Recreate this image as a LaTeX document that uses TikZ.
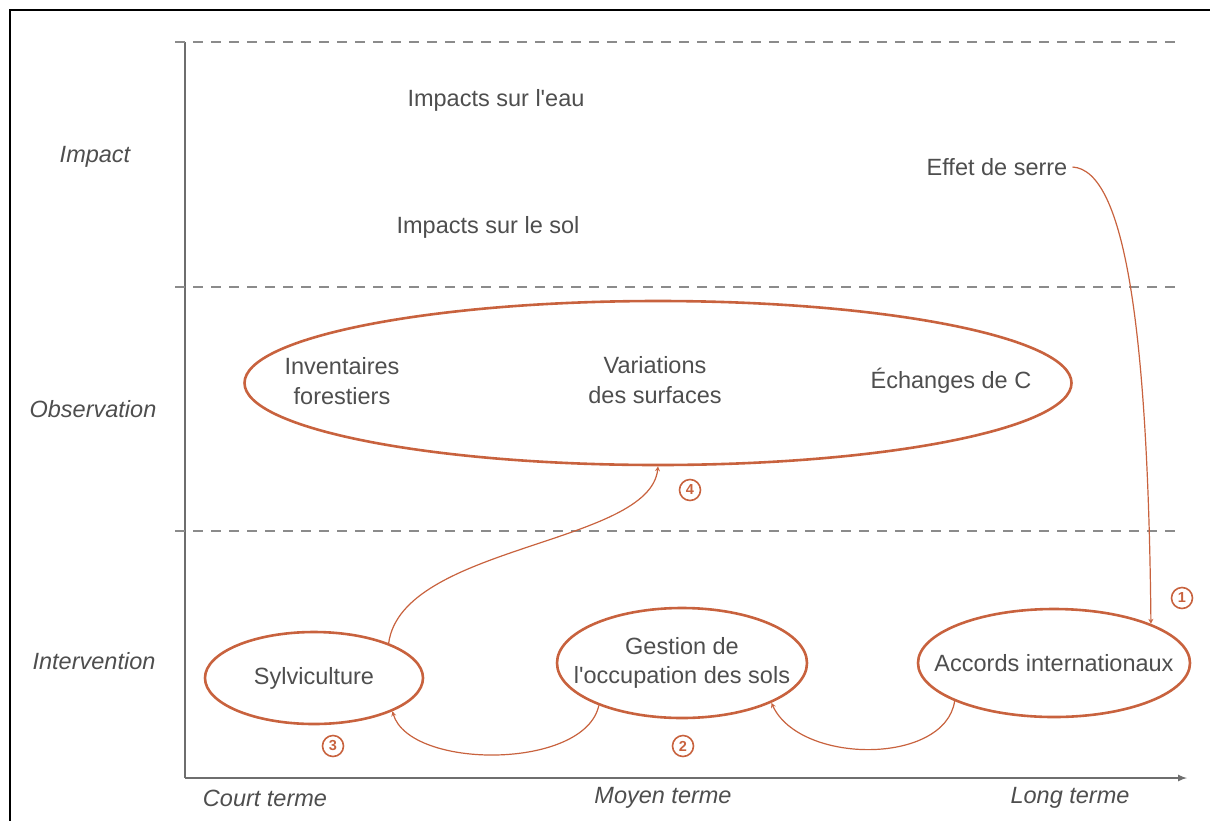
\documentclass[tikz,border=0pt]{standalone}
\usepackage{fontspec}
\setmainfont{Liberation Sans}[Ligatures=TeXOff]
\usepackage{xcolor}
\usetikzlibrary{arrows, shapes}

\definecolor{Brique}{RGB}{200,98,62}
\definecolor{Texte}{RGB}{78,78,78}
\definecolor{Trait}{RGB}{110,110,110}

\begin{document}
\begin{tikzpicture}[x=1pt, y=-1pt,
  texte/.style={text=Texte, font=\fontsize{23.5}{29.5}\selectfont,
    align=center, inner sep=0pt},
  %
  axe/.style={text=Texte, font=\fontsize{23.5}{29.5}\selectfont\itshape,
    inner sep=0pt},
  %
  action/.style={draw=Brique, ellipse, line width=2.6pt, inner sep=0pt},
  %
  lien/.style={->, >=stealth, draw=Brique, line width=1.2pt},
  %
  numero/.style={circle, draw=Brique, text=Brique, line width=1.6pt,
    inner sep=0pt, minimum size=21pt, font=\fontsize{14.5}{14.5}\selectfont\bfseries},
  %
  niveau/.style={draw=Trait!80, dash pattern=on 10pt off 8pt, line width=2pt}
  ]

  \useasboundingbox (0,0) rectangle (1210,820);

  % cadre
  \draw [line width=2pt] (10,840) |- (1230,10);

  \begin{scope}
    % axes et niveaux
    \coordinate (haut) at (185,42);
    \coordinate (origine) at (185,778);
    \coordinate (fin) at (1187,778);
    \draw [Trait, line width=2pt] (haut) -- (origine);
    \draw [Trait, line width=2pt, -latex] (origine) -- (fin);
    \foreach \y in {42, 287, 531}
      \draw [niveau] (175,\y) -- (1182,\y);

    \node [axe] (impact) at (95,157) {Impact};
    \node [axe] (observation) at (93,409) {Observation};
    \node [axe] (intervention) at (94,661) {Intervention};
    \node [axe] (court) at (265,798) {Court terme};
    \node [axe] (moyen) at (663,798) {Moyen terme};
    \node [axe] (long) at (1070,798) {Long terme};
  \end{scope}

  \begin{scope}
    % impacts
    \node [texte] (eau) at (496,100) {Impacts sur l'eau};
    \node [texte] (sol) at (488,227) {Impacts sur le sol};
    \node [texte] (serre) at (997,167) {Effet de serre};

    % observation
    \node [action, minimum width=827pt, minimum height=164pt] (obs) at (658,383) {};
    \node [texte] (inventaires) at (342,381) {Inventaires\\forestiers};
    \node [texte] (variations) at (655,380) {Variations\\des surfaces};
    \node [texte] (echanges) at (951,381) {Échanges de C};

    % intervention
    \node [action, minimum width=218pt, minimum height=92pt] (sylvi) at (314,678) {};
    \node [texte] (sylvitxt) at (sylvi) {Sylviculture};
    \node [action, minimum width=250pt, minimum height=110pt] (gestion) at (682,663) {};
    \node [texte] (gestiontxt) at (gestion) {Gestion de\\l'occupation des sols};
    \node [action, minimum width=272pt, minimum height=108pt] (accords) at (1054,663) {};
    \node [texte] (accordstxt) at (accords) {Accords internationaux};
  \end{scope}

  \begin{scope}
    \draw [lien] ([xshift=5pt]serre.east) .. controls (1125,170) and (1148,330) .. (accords.22);
    \draw [lien] (accords.201) .. controls (945,765) and (800,765) .. (gestion.336);
    \draw [lien] (gestion.207) .. controls (585,770) and (410,770) .. (sylvi.337);
    \draw [lien] (sylvi.25) .. controls (402,545) and (650,545) .. (obs.south);

    \node [numero] (n1) at (1182,598) {1};
    \node [numero] (n2) at (683,746) {2};
    \node [numero] (n3) at (333,746) {3};
    \node [numero] (n4) at (690,490) {4};
  \end{scope}

\end{tikzpicture}
\end{document}
